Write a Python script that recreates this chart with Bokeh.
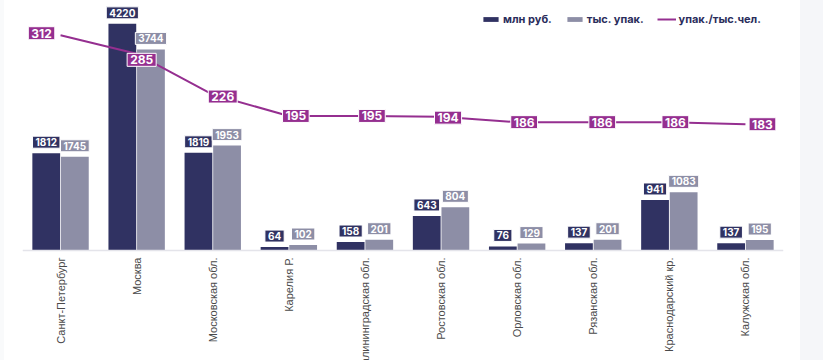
import math
from bokeh.plotting import figure
from bokeh.models import (ColumnDataSource, FactorRange, Range1d, LabelSet, Span, Div)
from bokeh.layouts import row
from bokeh.transform import dodge
from bokeh.core.properties import value
from bokeh.embed import file_html
from bokeh.resources import INLINE

# ---- data ----
categories = ["Санкт-Петербург", "Москва", "Московская обл.", "Карелия Р.",
              "Калининградская обл.", "Ростовская обл.", "Орловская обл.",
              "Рязанская обл.", "Краснодарский кр.", "Калужская обл."]
mln_rub = [1812, 4220, 1819, 64, 158, 643, 76, 137, 941, 137]
tys_upak = [1745, 3744, 1953, 102, 201, 804, 129, 201, 1083, 195]
upak_per_tys = [312, 285, 226, 195, 195, 194, 186, 186, 186, 183]
series_names = ["млн руб.", "тыс. упак.", "упак./тыс.чел."]

# ---- style ----
DARK = "#303262"
LIGHT = "#8d8ea6"
PURPLE = "#952f90"
AXIS = "#e4e4ea"
FONT = value("Inter")

# label nudges (screen px) for the line labels
line_dx = [-19, 5, 10, 7, 7, 7, 7, 9, 6, 17]
line_dy = [-2, 6, 2, 0, 0, 1, 0, 0, 0, 0]

src = ColumnDataSource(dict(
    cat=categories,
    rub=mln_rub,
    upak=tys_upak,
    rate=upak_per_tys,
    rub_lbl=[str(v) for v in mln_rub],
    upak_lbl=[str(v) for v in tys_upak],
    rate_lbl=[str(v) for v in upak_per_tys],
    dx=line_dx,
    dy=line_dy,
))

# frame spans the whole height; the zero line sits 110px above the bottom,
# leaving room for the vertical category labels below it
p = figure(width=796, height=360, x_range=FactorRange(factors=categories, range_padding=0),
           y_range=Range1d(-2048, 4655), output_backend="svg", toolbar_location=None,
           x_axis_location=None, y_axis_location=None,
           min_border_left=18, min_border_right=17, min_border_top=0, min_border_bottom=0)
p.extra_y_ranges = {"rate": Range1d(-159.4, 362.3)}
p.outline_line_color = None
p.grid.visible = False
p.background_fill_color = "white"
p.border_fill_color = "white"

p.vbar(x=dodge("cat", -0.188, range=p.x_range), top="rub", width=0.365, source=src,
       fill_color=DARK, line_color=None, legend_label=series_names[0])
p.vbar(x=dodge("cat", 0.188, range=p.x_range), top="upak", width=0.365, source=src,
       fill_color=LIGHT, line_color=None, legend_label=series_names[1])

p.add_layout(Span(location=0, dimension="width", line_color=AXIS, line_width=1.5))

p.line(x="cat", y="rate", source=src, y_range_name="rate", line_color=PURPLE,
       line_width=2, legend_label=series_names[2])

box_pad = dict(left=3, right=3, top=2, bottom=2)

# bar value labels
p.text(x=dodge("cat", -0.188, range=p.x_range), y="rub", text="rub_lbl", source=src,
       text_align="center", text_baseline="bottom", y_offset=-5,
       text_font=FONT, text_font_style="bold", text_font_size="10px", text_color="white",
       background_fill_color=DARK, border_line_color="white", border_line_width=1,
       padding=box_pad)
p.text(x=dodge("cat", 0.188, range=p.x_range), y="upak", text="upak_lbl", source=src,
       text_align="center", text_baseline="bottom", y_offset=-5,
       text_font=FONT, text_font_style="bold", text_font_size="10px", text_color="white",
       background_fill_color=LIGHT, border_line_color="white", border_line_width=1,
       padding=box_pad)

# line value labels
p.text(x="cat", y="rate", text="rate_lbl", source=src, y_range_name="rate",
       x_offset="dx", y_offset="dy",
       text_align="center", text_baseline="middle",
       text_font=FONT, text_font_style="bold", text_font_size="12px", text_color="white",
       background_fill_color=PURPLE, border_line_color="white", border_line_width=1,
       padding=dict(left=3, right=3, top=2, bottom=2))

# category labels
p.add_layout(LabelSet(x="cat", y=0, text="cat", source=src, angle=math.pi / 2,
                      text_align="right", text_baseline="middle", y_offset=-7,
                      text_font=value("Liberation Sans"), text_font_size="11px",
                      text_color="#4a4a4a"))

leg = p.legend[0]
leg.orientation = "horizontal"
leg.location = (459, 334)
leg.glyph_width = 19
leg.glyph_height = 6
leg.label_height = 12
leg.label_standoff = 3
leg.spacing = 13
leg.padding = 0
leg.margin = 0
leg.border_line_color = None
leg.background_fill_alpha = 0
leg.label_text_font = "Inter"
leg.label_text_font_style = "bold"
leg.label_text_font_size = "11px"
leg.label_text_color = "#2b2d5c"

left_strip = Div(width=4, height=360, margin=0, styles={"background-color": "#f9fafb"})
right_strip = Div(width=23, height=360, margin=0, styles={"background-color": "#f5f6f9"})
layout = row(left_strip, p, right_strip, spacing=0)

open("out.html", "w").write(file_html(layout, INLINE))
